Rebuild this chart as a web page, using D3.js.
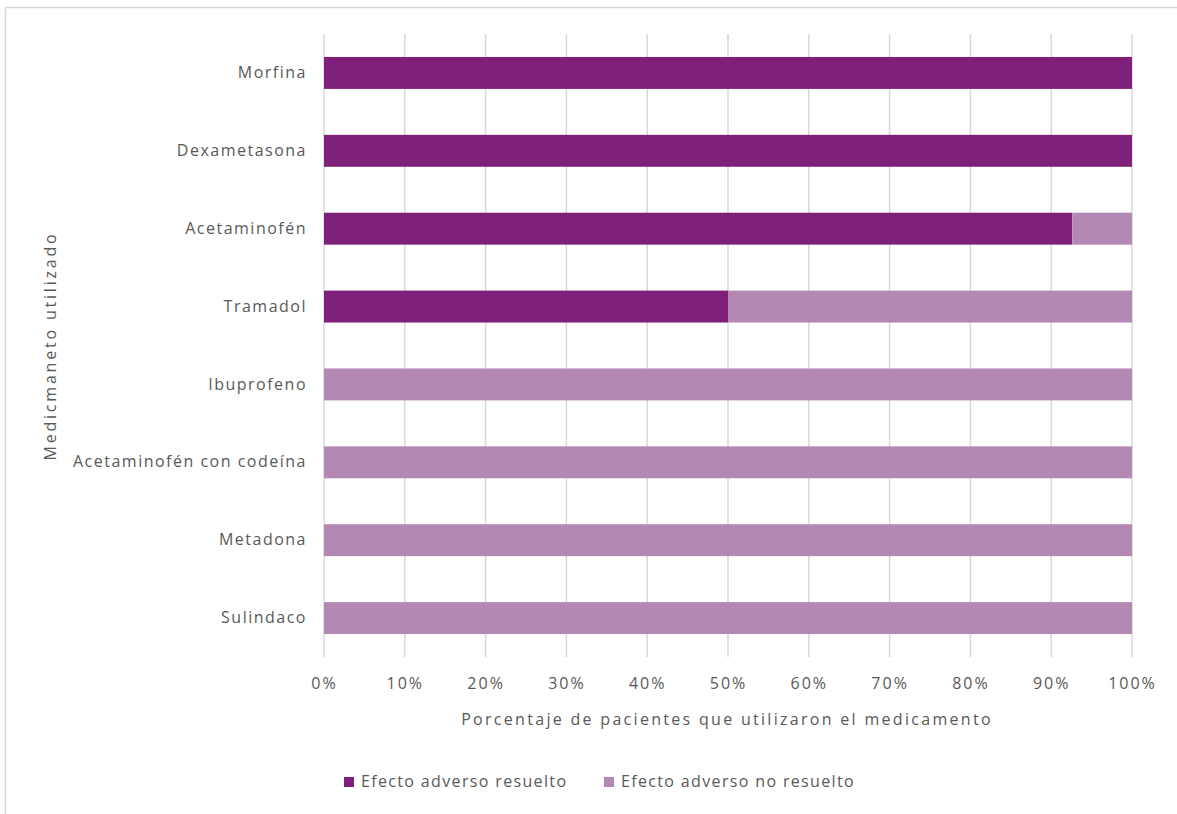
<!DOCTYPE html>
<html>
<head>
<meta charset="utf-8">
<script src="https://cdn.jsdelivr.net/npm/d3@7"></script>
<style>
  body { margin: 0; background: #fff; }
  svg { display: block; }
  text { font-family: "Open Sans", "Liberation Sans", sans-serif; fill: #595959; }
</style>
</head>
<body>
<svg id="chart" width="1177" height="814"></svg>
<script>
// Medications (top to bottom)
const categories = ["Morfina", "Dexametasona", "Acetaminofén", "Tramadol", "Ibuprofeno",
                    "Acetaminofén con codeína", "Metadona", "Sulindaco"];
// Percentage of patients per outcome
const resuelto   = [100, 100, 92.6, 50, 0, 0, 0, 0];
const noResuelto = [0, 0, 7.4, 50, 100, 100, 100, 100];
const seriesNames = ["Efecto adverso resuelto", "Efecto adverso no resuelto"];
const tickValues = [0, 10, 20, 30, 40, 50, 60, 70, 80, 90, 100];
const colors = ["#7e1f79", "#b388b3"];

const svg = d3.select("#chart");

// outer chart frame
svg.append("rect")
  .attr("x", 5.5).attr("y", 7.5)
  .attr("width", 1300).attr("height", 900)
  .attr("fill", "none").attr("stroke", "#d9d9d9").attr("stroke-width", 1.5);

const x = d3.scaleLinear().domain([0, 100]).range([324, 1132]);
const y = d3.scaleBand().domain(categories).range([34, 657]).paddingInner(0.59).paddingOuter(0.295);

// vertical gridlines
svg.append("g").selectAll("line").data(tickValues).join("line")
  .attr("x1", d => x(d)).attr("x2", d => x(d))
  .attr("y1", 34).attr("y2", 657)
  .attr("stroke", "#d9d9d9").attr("stroke-width", 1.5);

// stacked bars
const rows = categories.map((c, i) => ({ cat: c, vals: [resuelto[i], noResuelto[i]] }));
const stackData = rows.map(r => {
  let acc = 0;
  return r.vals.map((v, k) => { const s = { cat: r.cat, k, x0: acc, x1: acc + v }; acc += v; return s; });
}).flat().filter(d => d.x1 > d.x0);

svg.append("g").selectAll("rect").data(stackData).join("rect")
  .attr("x", d => x(d.x0))
  .attr("width", d => x(d.x1) - x(d.x0))
  .attr("y", d => y(d.cat))
  .attr("height", y.bandwidth())
  .attr("fill", d => colors[d.k]);

// x axis tick labels
const xAxis = d3.axisBottom(x).tickValues(tickValues).tickFormat(d => d + "%").tickSize(0).tickPadding(0);
const gx = svg.append("g").attr("transform", "translate(0,678)").call(xAxis);
gx.select(".domain").remove();
gx.selectAll("text").attr("font-size", 16).attr("fill", "#595959")
  .attr("letter-spacing", 2)
  .style("font-family", "'Open Sans', sans-serif");

// y axis category labels
const yAxis = d3.axisLeft(y).tickSize(0).tickPadding(17);
const gy = svg.append("g").attr("transform", "translate(324,0)").call(yAxis);
gy.select(".domain").remove();
gy.selectAll("text").attr("font-size", 16).attr("fill", "#595959")
  .attr("letter-spacing", 1.5)
  .style("font-family", "'Open Sans', sans-serif");

// axis titles
svg.append("text")
  .attr("x", 727).attr("y", 725)
  .attr("text-anchor", "middle").attr("font-size", 16)
  .attr("letter-spacing", 2.3)
  .text("Porcentaje de pacientes que utilizaron el medicamento");

svg.append("text")
  .attr("transform", "translate(56,346) rotate(-90)")
  .attr("text-anchor", "middle").attr("font-size", 16)
  .attr("letter-spacing", 2.8)
  .text("Medicmaneto utilizado");

// legend
const legendX = [344, 604];
const lg = svg.append("g").selectAll("g").data(seriesNames).join("g")
  .attr("transform", (d, i) => `translate(${legendX[i]},777)`);
lg.append("rect").attr("width", 10).attr("height", 10).attr("fill", (d, i) => colors[i]);
lg.append("text").attr("x", 17).attr("y", 10).attr("font-size", 16)
  .attr("letter-spacing", 1.35).text(d => d);
</script>
</body>
</html>
